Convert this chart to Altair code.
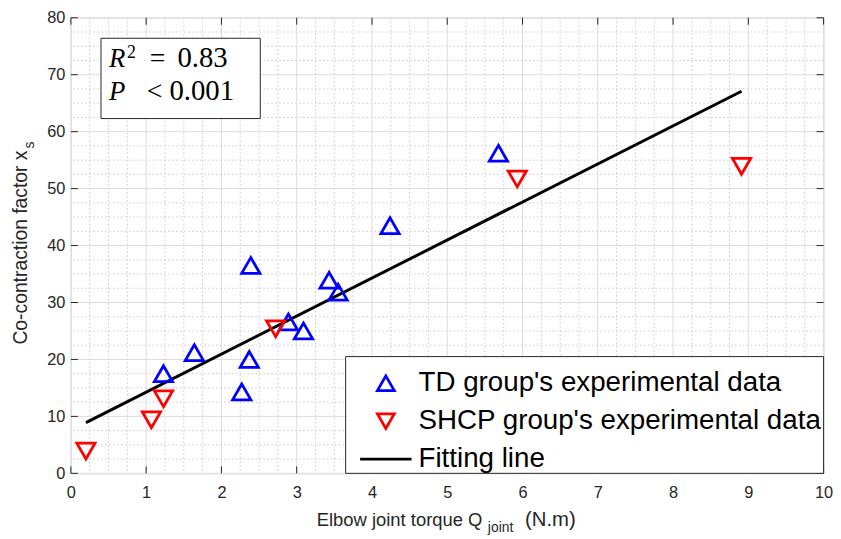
import altair as alt
import pandas as pd

# ---- data ----
td_x = [1.23, 1.64, 2.27, 2.37, 2.39, 2.89, 3.09, 3.43, 3.55, 4.24, 5.68]
td_y = [17.5, 21.2, 14.3, 20.0, 36.5, 26.6, 25.0, 33.9, 31.8, 43.5, 56.2]
shcp_x = [0.20, 1.07, 1.23, 2.72, 5.93, 8.91]
shcp_y = [3.9, 9.4, 13.1, 25.4, 51.7, 53.9]
fit_x = [0.20, 8.91]
fit_y = [8.9, 67.1]
labels = ["TD group's experimental data", "SHCP group's experimental data", "Fitting line"]
x_ticks = [0, 1, 2, 3, 4, 5, 6, 7, 8, 9, 10]
y_ticks = [0, 10, 20, 30, 40, 50, 60, 70, 80]
x_minor = [v / 4 for v in range(0, 41) if v % 4]
y_minor = [v * 2.5 for v in range(0, 33) if v % 4]

W, H = 760, 460
AX = "#262626"
SANS = "Liberation Sans"
SERIF = "Liberation Serif"

pts = pd.DataFrame({
    "x": td_x + shcp_x,
    "y": td_y + shcp_y,
    "group": [labels[0]] * len(td_x) + [labels[1]] * len(shcp_x),
})
fit = pd.DataFrame({"x": fit_x, "y": fit_y, "group": [labels[2]] * len(fit_x)})

xscale = alt.Scale(domain=[0, 10], nice=False, zero=False)
yscale = alt.Scale(domain=[0, 80], nice=False, zero=False)
xaxis = alt.Axis(values=x_ticks, grid=False, ticks=False, domain=False, labelFontSize=16.5,
                 labelPadding=11, labelColor=AX, labelFont=SANS, labelFlush=False, title=None)
yaxis = alt.Axis(values=y_ticks, grid=False, ticks=False, domain=False, labelFontSize=16.5,
                 labelPadding=6, labelColor=AX, labelFont=SANS, labelFlush=False, title=None)


def X(f):
    return alt.X(f, type="quantitative", scale=xscale, axis=xaxis)


def Y(f):
    return alt.Y(f, type="quantitative", scale=yscale, axis=yaxis)


def XD(v):
    return alt.XDatum(v, type="quantitative", scale=xscale, axis=xaxis)


def YD(v):
    return alt.YDatum(v, type="quantitative", scale=yscale, axis=yaxis)


legend = alt.Legend(orient="none", legendX=304, legendY=355, padding=0, title=None,
                    labelFont=SANS, labelFontSize=28, labelColor="#000000",
                    labelOffset=19, symbolSize=290, symbolStrokeWidth=2.8,
                    rowPadding=10.3, labelLimit=600)
stroke_enc = alt.Stroke("group:N", scale=alt.Scale(domain=labels, range=["#0000ff", "#ff0000", "#000000"]),
                        legend=legend)
shape_enc = alt.Shape("group:N", scale=alt.Scale(domain=labels,
                      range=["triangle-up", "triangle-down", "M-3.05,0L3.05,0"]), legend=legend)

# grid
gx_minor = alt.Chart(pd.DataFrame({"x": x_minor})).mark_rule(color="#c8c8c8", strokeWidth=1, strokeDash=[1.5, 2.5]).encode(x=X("x"))
gy_minor = alt.Chart(pd.DataFrame({"y": y_minor})).mark_rule(color="#c8c8c8", strokeWidth=1, strokeDash=[1.5, 2.5]).encode(y=Y("y"))
gx_major = alt.Chart(pd.DataFrame({"x": x_ticks})).mark_rule(color="#dcdcdc", strokeWidth=1).encode(x=X("x"))
gy_major = alt.Chart(pd.DataFrame({"y": y_ticks})).mark_rule(color="#dcdcdc", strokeWidth=1).encode(y=Y("y"))

# inward ticks
tdf_x = pd.DataFrame({"x": x_ticks})
tdf_y = pd.DataFrame({"y": y_ticks})
tick_b = alt.Chart(tdf_x).mark_rule(color=AX, strokeWidth=1).encode(x=X("x"), y=alt.value(H), y2=alt.value(H - 7))
tick_t = alt.Chart(tdf_x).mark_rule(color=AX, strokeWidth=1).encode(x=X("x"), y=alt.value(0), y2=alt.value(7))
tick_l = alt.Chart(tdf_y).mark_rule(color=AX, strokeWidth=1).encode(y=Y("y"), x=alt.value(0), x2=alt.value(7))
tick_r = alt.Chart(tdf_y).mark_rule(color=AX, strokeWidth=1).encode(y=Y("y"), x=alt.value(W), x2=alt.value(W - 7))

# boxes
base = alt.Chart(pd.DataFrame({"a": [0]}))
legend_box = base.mark_rect(fill="white", stroke=AX, strokeWidth=1).encode(
    x=XD(3.65), x2=alt.X2Datum(10.0), y=YD(0.0), y2=alt.Y2Datum(20.5))
note_box = base.mark_rect(fill="white", stroke=AX, strokeWidth=1).encode(
    x=XD(0.40), x2=alt.X2Datum(2.516), y=YD(62.3), y2=alt.Y2Datum(76.4))

# data layers
fit_line = alt.Chart(fit).mark_line(strokeWidth=3).encode(x=X("x"), y=Y("y"), stroke=stroke_enc)
points = alt.Chart(pts).mark_point(filled=False, size=340, strokeWidth=2.8, opacity=1).encode(
    x=X("x"), y=Y("y"), stroke=stroke_enc, shape=shape_enc)


# annotation text
def note(text, x, y, dx=0, dy=0, size=27, style="normal"):
    return base.mark_text(text=text, font=SERIF, fontSize=size, fontStyle=style, align="left",
                          baseline="alphabetic", dx=dx, dy=dy, color="#000000").encode(x=XD(x), y=YD(y))


nx, ny1, ny2 = 0.507, 71.38, 65.59
notes = [
    note("R", nx, ny1, style="italic"),
    note("2", nx, ny1, dx=18, dy=-9, size=18),
    note("=", nx, ny1, dx=41, size=28),
    note("0.83", nx, ny1, dx=69, size=29),
    note("P", nx, ny2, style="italic"),
    note("<", nx, ny2, dx=38, size=28),
    note("0.001", nx, ny2, dx=61, size=29),
]


# axis titles with subscripts
def ptext(text, x, y, size, align="left", angle=0, dx=0, dy=0):
    kw = dict(text=text, font=SANS, fontSize=size, align=align, baseline="alphabetic",
              color=AX, dx=dx, dy=dy)
    if angle:
        kw["angle"] = angle
    return base.mark_text(**kw).encode(x=alt.value(x), y=alt.value(y))


# view origin is at page (71.5, 15.3)
titles = [
    ptext("Elbow joint torque Q", 415.5, 513, 18.6, align="right"),
    ptext("joint", 421, 519, 14),
    ptext("(N.m)", 458.5, 513, 20.5),
    ptext("Co-contraction factor x", -44, 134, 19.5, align="right", angle=270),
    ptext("s", -44, 132, 14, align="left", angle=270, dy=7),
]

chart = alt.layer(
    gx_minor, gy_minor, gx_major, gy_major,
    tick_b, tick_t, tick_l, tick_r,
    note_box, legend_box,
    fit_line, points,
    *notes, *titles,
).properties(
    width=W, height=H,
    autosize=alt.AutoSizeParams(type="none"),
    padding={"left": 63.5, "top": 7.3, "right": 9.5, "bottom": 60},
).configure_view(stroke=AX, strokeWidth=1).configure(background="white")

chart.save("out.html", embed_options={"renderer": "svg", "actions": False})
